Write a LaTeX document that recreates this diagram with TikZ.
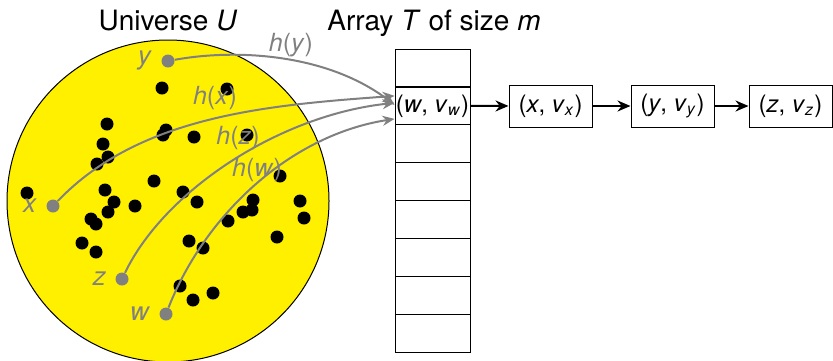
\documentclass[tikz,border=0pt]{standalone}
\usepackage{fontspec}
\setmainfont{TeX Gyre Heros}
\usetikzlibrary{arrows.meta}
\definecolor{uniyellow}{RGB}{255,240,0}
\definecolor{hashgray}{RGB}{128,128,128}

\begin{document}
\begin{tikzpicture}[x=0.5pt, y=-0.5pt, font=\fontsize{13}{15}\selectfont,
  title/.style={anchor=base, font=\fontsize{14}{16}\selectfont},
  cell/.style={draw, line width=0.5pt, minimum width=37.5pt, minimum height=19pt, inner sep=0pt,
    font=\fontsize{12}{14}\selectfont},
  entry/.style={draw, line width=0.5pt, minimum width=41.5pt, minimum height=21pt, inner sep=0pt,
    font=\fontsize{12}{14}\selectfont},
  elem/.style={circle, fill=black, inner sep=0pt, minimum size=6.5pt},
  key/.style={circle, fill=hashgray, inner sep=0pt, minimum size=6.5pt},
  hash/.style={hashgray, line width=1pt, -{Stealth[length=6pt, width=5pt]}},
  hlabel/.style={text=hashgray, font=\fontsize{12.5}{14}\selectfont},
  link/.style={line width=1pt, -{Stealth[length=6.5pt, width=5.5pt]}}]

\useasboundingbox (0,0) rectangle (833,360);

% Universe
\filldraw[fill=uniyellow, line width=0.5pt] (168,201) circle[radius=80.5pt];
\node[title] (univ) at (168,30) {Universe \textit{U}};

% Elements of the universe
\foreach \px/\py [count=\i] in {162/88, 227/89, 107/124, 166/130, 163/135, 194/137,
  247/135, 103/144, 108/157, 97/164, 154/181, 280/176, 27/193, 105/190, 114/202,
  135/206, 108/212, 91/219, 96/224, 183/192, 197/202, 253/200, 252/210, 243/212,
  228/221, 300/201, 304/218, 277/237, 82/243, 96/252, 189/241, 203/248, 180/286,
  193/300, 213/293} {
  \node[elem] (d\i) at (\px,\py) {};
}

% Keys
\node[key, label={[text=hashgray, label distance=1pt]left:\textit{y}}] (y) at (168,61) {};
\node[key, label={[text=hashgray, label distance=1pt]left:\textit{x}}] (x) at (53,206) {};
\node[key, label={[text=hashgray, label distance=1pt]left:\textit{z}}] (z) at (122,279) {};
\node[key, label={[text=hashgray, label distance=1pt]left:\textit{w}}] (w) at (166,314) {};

% Array
\node[title] (arr) at (434,30) {Array \textit{T} of size \textit{m}};
\foreach \i in {0,2,3,4,5,6,7} {
  \node[cell] (c\i) at (432.5, 68+37.9*\i) {};
}
\node[cell] (c1) at (432.5, 105.9) {(\textit{w}, \textit{v}\textsubscript{\textit{w}})};

% Chain
\node[entry] (ex) at (550.5,106) {(\textit{x}, \textit{v}\textsubscript{\textit{x}})};
\node[entry] (ey) at (672.5,106) {(\textit{y}, \textit{v}\textsubscript{\textit{y}})};
\node[entry] (ez) at (790.5,106) {(\textit{z}, \textit{v}\textsubscript{\textit{z}})};
\draw[link] (c1) -- (ex);
\draw[link] (ex) -- (ey);
\draw[link] (ey) -- (ez);

% Hash arrows
\draw[hash] (y) .. controls (240,48) and (330,55) .. ([yshift=0.5pt]c1.west);
\draw[hash] (x) .. controls (140,115) and (270,105) .. ([yshift=5pt]c1.west);
\draw[hash] (z) .. controls (165,190) and (280,115) .. ([yshift=1.5pt]c1.west);
\draw[hash] (w) .. controls (205,215) and (290,135) .. ([yshift=-6.5pt]c1.west);

\node[hlabel] (hy) at (291,45) {\textit{h}(\textit{y})};
\node[hlabel] (hx) at (215,98) {\textit{h}(\textit{x})};
\node[hlabel] (hz) at (238,138) {\textit{h}(\textit{z})};
\node[hlabel] (hw) at (257,170) {\textit{h}(\textit{w})};

\end{tikzpicture}
\end{document}
